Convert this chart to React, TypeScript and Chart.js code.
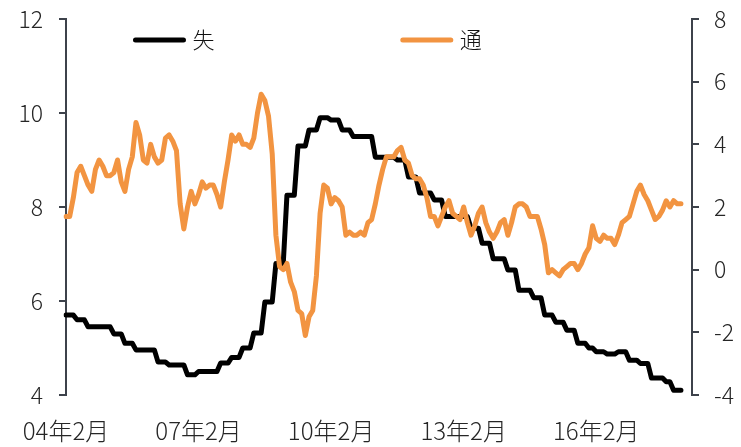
import React, { useEffect, useRef } from "react";
import { Chart, registerables } from "chart.js";

Chart.register(...registerables);

// ---- data ----
const START_YEAR = 2004;
const START_MONTH = 2;
const MONTH_COUNT = 171; // 2004-02 .. 2018-04 (axis range)

const categories: string[] = [];
for (let k = 0; k < MONTH_COUNT; k++) {
  const t = START_MONTH - 1 + k;
  const y = START_YEAR + Math.floor(t / 12);
  const m = (t % 12) + 1;
  categories.push(`${String(y % 100).padStart(2, "0")}年${m}月`);
}

const seriesNames = ["失", "通"];

// left axis, from 2004-02 to 2018-01
const unemployment: number[] = [
  5.7, 5.7, 5.7, 5.6, 5.6, 5.6, 5.45, 5.45, 5.45, 5.45, 5.45,
  5.45, 5.45, 5.3, 5.3, 5.3, 5.1, 5.1, 5.1, 4.96, 4.96, 4.96, 4.96,
  4.96, 4.96, 4.7, 4.7, 4.7, 4.64, 4.64, 4.64, 4.64, 4.64, 4.43, 4.43,
  4.43, 4.5, 4.5, 4.5, 4.5, 4.5, 4.5, 4.68, 4.68, 4.68, 4.8, 4.8,
  4.8, 5.0, 5.0, 5.0, 5.32, 5.32, 5.32, 5.98, 5.98, 5.98, 6.8, 6.8,
  6.8, 8.25, 8.25, 8.25, 9.3, 9.3, 9.3, 9.64, 9.64, 9.64, 9.9, 9.9,
  9.9, 9.85, 9.85, 9.85, 9.64, 9.64, 9.64, 9.5, 9.5, 9.5, 9.5, 9.5,
  9.5, 9.06, 9.06, 9.06, 9.06, 9.06, 9.06, 9.0, 9.0, 9.0, 8.64, 8.64,
  8.64, 8.3, 8.3, 8.3, 8.3, 8.15, 8.15, 8.15, 7.8, 7.8, 7.8, 7.8,
  7.8, 7.8, 7.8, 7.55, 7.55, 7.55, 7.23, 7.23, 7.23, 6.9, 6.9, 6.9,
  6.9, 6.66, 6.66, 6.66, 6.23, 6.23, 6.23, 6.23, 6.07, 6.07, 6.07, 5.7,
  5.7, 5.7, 5.55, 5.55, 5.55, 5.38, 5.38, 5.38, 5.1, 5.1, 5.1, 5.0,
  5.0, 4.92, 4.92, 4.92, 4.87, 4.87, 4.87, 4.92, 4.92, 4.92, 4.74, 4.74,
  4.74, 4.67, 4.67, 4.67, 4.36, 4.36, 4.36, 4.36, 4.28, 4.28, 4.1, 4.1,
  4.1,
];

// right axis, from 2004-02 to 2018-01
const inflation: number[] = [
  1.7, 1.7, 2.3, 3.1, 3.3, 3.0, 2.7, 2.5, 3.2, 3.5, 3.3,
  3.0, 3.0, 3.1, 3.5, 2.8, 2.5, 3.2, 3.6, 4.7, 4.3, 3.5, 3.4,
  4.0, 3.6, 3.4, 3.5, 4.2, 4.3, 4.1, 3.8, 2.1, 1.3, 2.0, 2.5,
  2.1, 2.4, 2.8, 2.6, 2.7, 2.7, 2.4, 2.0, 2.8, 3.5, 4.3, 4.1,
  4.3, 4.0, 4.0, 3.9, 4.2, 5.0, 5.6, 5.4, 4.9, 3.7, 1.1, 0.1,
  0.0, 0.2, -0.4, -0.7, -1.3, -1.4, -2.1, -1.5, -1.3, -0.2, 1.8, 2.7,
  2.6, 2.1, 2.3, 2.2, 2.0, 1.1, 1.2, 1.1, 1.1, 1.2, 1.1, 1.5,
  1.6, 2.1, 2.7, 3.2, 3.6, 3.6, 3.6, 3.8, 3.9, 3.5, 3.4, 3.0,
  2.9, 2.9, 2.7, 2.3, 1.7, 1.7, 1.4, 1.7, 2.0, 2.2, 1.8, 1.7,
  1.6, 2.0, 1.5, 1.1, 1.4, 1.8, 2.0, 1.5, 1.2, 1.0, 1.2, 1.5,
  1.6, 1.1, 1.5, 2.0, 2.1, 2.1, 2.0, 1.7, 1.7, 1.7, 1.3, 0.8,
  -0.1, 0.0, -0.1, -0.2, 0.0, 0.1, 0.2, 0.2, 0.0, 0.2, 0.5, 0.7,
  1.4, 1.0, 0.9, 1.1, 1.0, 1.0, 0.8, 1.1, 1.5, 1.6, 1.7, 2.1,
  2.5, 2.7, 2.4, 2.2, 1.9, 1.6, 1.7, 1.9, 2.2, 2.0, 2.2, 2.1,
  2.1,
];

const LEFT_MIN = 4, LEFT_MAX = 12, LEFT_STEP = 2;
const RIGHT_MIN = -4, RIGHT_MAX = 8, RIGHT_STEP = 2;
const X_LABEL_EVERY = 36;

// ---- styles ----
const BLACK = "#000000";
const ORANGE = "#F29441";
const AXIS = "#3d424b";
const TEXT = "#262626";
const FONT = "'Noto Sans CJK SC', 'Noto Sans', sans-serif";

const legendPlugin = {
  id: "customLegend",
  afterDraw(chart: any) {
    const { ctx, chartArea } = chart;
    const spots = [0.111, 0.538];
    const y = chartArea.top + 21;
    ctx.save();
    chart.data.datasets.forEach((ds: any, i: number) => {
      const x0 = chartArea.left + spots[i] * (chartArea.right - chartArea.left);
      const len = 48;
      ctx.beginPath();
      ctx.strokeStyle = ds.borderColor;
      ctx.lineWidth = 5;
      ctx.lineCap = "round";
      ctx.moveTo(x0, y);
      ctx.lineTo(x0 + len, y);
      ctx.stroke();
      ctx.fillStyle = "#111";
      ctx.font = `300 22px ${FONT}`;
      ctx.textBaseline = "middle";
      ctx.textAlign = "left";
      ctx.fillText(ds.label, x0 + len + 9, y);
    });
    ctx.restore();
  },
};

export default function App() {
  const ref = useRef<HTMLCanvasElement | null>(null);

  useEffect(() => {
    document.body.style.margin = "0";
    if (!ref.current) return;
    const padded = (arr: number[]) =>
      categories.map((_, i) => (i < arr.length ? arr[i] : null));
    const chart = new Chart(ref.current, {
      type: "line",
      data: {
        labels: categories,
        datasets: [
          {
            label: seriesNames[0],
            data: padded(unemployment),
            borderColor: BLACK,
            backgroundColor: BLACK,
            borderWidth: 5,
            pointRadius: 0,
            tension: 0,
            borderCapStyle: "round",
            borderJoinStyle: "round",
            yAxisID: "y",
            order: 1,
          },
          {
            label: seriesNames[1],
            data: padded(inflation),
            borderColor: ORANGE,
            backgroundColor: ORANGE,
            borderWidth: 5,
            pointRadius: 0,
            tension: 0,
            borderCapStyle: "round",
            borderJoinStyle: "round",
            yAxisID: "y1",
            order: 0,
          },
        ],
      },
      options: {
        responsive: false,
        animation: false,
        devicePixelRatio: 1,
        layout: { padding: { top: 19, left: 0, right: 0, bottom: 0 } },
        plugins: { legend: { display: false }, tooltip: { enabled: false } },
        scales: {
          x: {
            type: "category",
            grid: { display: false, drawTicks: false },
            border: { display: false },
            ticks: {
              autoSkip: false,
              maxRotation: 0,
              minRotation: 0,
              padding: 21,
              color: TEXT,
              font: { family: FONT, size: 24, weight: "300" },
              callback: (_v: any, i: number) =>
                i % X_LABEL_EVERY === 0 ? categories[i] : "",
            },
            afterFit: (s: any) => {
              s.height = 52;
            },
          },
          y: {
            position: "left",
            min: LEFT_MIN,
            max: LEFT_MAX,
            grid: {
              display: true,
              drawOnChartArea: false,
              drawTicks: true,
              tickLength: 7,
              color: AXIS,
              lineWidth: 2,
            },
            border: { display: true, color: AXIS, width: 2 },
            ticks: {
              stepSize: LEFT_STEP,
              padding: 16,
              color: TEXT,
              font: { family: FONT, size: 23, weight: "300" },
            },
            afterFit: (s: any) => {
              s.width = 66;
              s.paddingTop = 0;
              s.paddingBottom = 0;
            },
          },
          y1: {
            position: "right",
            min: RIGHT_MIN,
            max: RIGHT_MAX,
            grid: {
              display: true,
              drawOnChartArea: false,
              drawTicks: true,
              tickLength: 7,
              color: AXIS,
              lineWidth: 2,
            },
            border: { display: true, color: AXIS, width: 2 },
            ticks: {
              stepSize: RIGHT_STEP,
              padding: 15,
              color: TEXT,
              font: { family: FONT, size: 23, weight: "300" },
            },
            afterFit: (s: any) => {
              s.width = 49;
              s.paddingTop = 0;
              s.paddingBottom = 0;
            },
          },
        },
      },
      plugins: [legendPlugin],
    } as any);
    return () => chart.destroy();
  }, []);

  return (
    <div style={{ width: 741, height: 447 }}>
      <canvas ref={ref} width={741} height={447} style={{ display: "block" }} />
    </div>
  );
}
